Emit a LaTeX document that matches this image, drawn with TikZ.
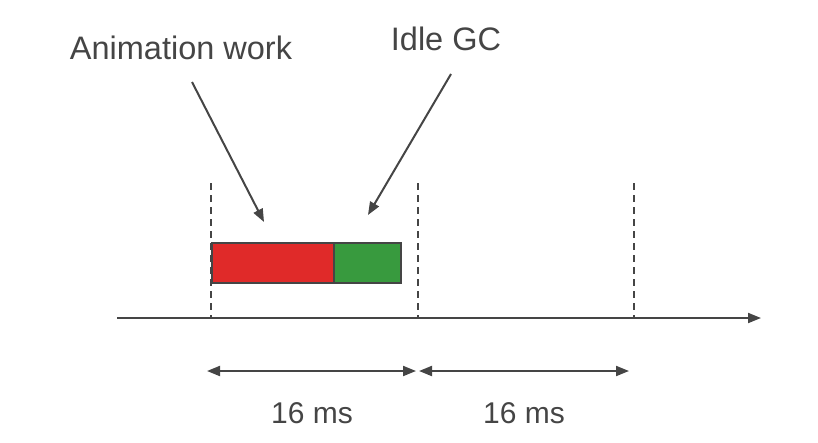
\documentclass[tikz,border=0pt]{standalone}
\usepackage{fontspec}
\setmainfont{Liberation Sans}
\usetikzlibrary{arrows.meta}
\definecolor{ink}{HTML}{454545}
\definecolor{redbar}{HTML}{E02A29}
\definecolor{greenbar}{HTML}{389A3E}
\begin{document}
\begin{tikzpicture}[x=1pt,y=-1pt,
  line/.style={draw=ink,line width=2pt},
  tip/.style={-{Triangle[length=13pt,width=10pt]}},
  tips/.style={{Triangle[length=13pt,width=10pt]}-{Triangle[length=13pt,width=10pt]}},
  dashline/.style={draw=ink,line width=2pt,dash pattern=on 7pt off 5pt},
  lab/.style={text=ink,font=\fontsize{32.5}{36}\selectfont,inner sep=0pt,anchor=base},
  mslab/.style={text=ink,font=\fontsize{30}{34}\selectfont,inner sep=0pt,anchor=base},
  bar/.style={draw=ink,line width=2pt,minimum height=40pt,inner sep=0pt,anchor=north west}]
\useasboundingbox (0,0) rectangle (818,442);
% axis
\coordinate (ax0) at (117,318);
\coordinate (ax1) at (761,318);
\draw[line,tip] (ax0) -- (ax1);
% dashed ticks
\coordinate (d1t) at (211,183); \coordinate (d1b) at (211,318);
\coordinate (d2t) at (418,183); \coordinate (d2b) at (418,318);
\coordinate (d3t) at (634,183); \coordinate (d3b) at (634,318);
\draw[dashline] (d1t) -- (d1b);
\draw[dashline] (d2t) -- (d2b);
\draw[dashline] (d3t) -- (d3b);
% bars
\node[bar,fill=redbar,minimum width=122pt] (anim) at (211,242) {};
\node[bar,fill=greenbar,minimum width=67pt] (idle) at (333,242) {};
% labels
\node[lab] (animlab) at (181,59) {Animation work};
\node[lab] (idlelab) at (446,50) {Idle GC};
\coordinate (a1e) at (264,222);
\coordinate (a2e) at (368,215);
\draw[line,tip] (192,82) -- (a1e);
\draw[line,tip] (451,74) -- (a2e);
% dimension arrows
\coordinate (m1a) at (207,371); \coordinate (m1b) at (416,371);
\coordinate (m2a) at (419,371); \coordinate (m2b) at (629,371);
\draw[line,tips] (m1a) -- (m1b);
\draw[line,tips] (m2a) -- (m2b);
\node[mslab] (ms1) at (312,423) {16 ms};
\node[mslab] (ms2) at (524,423) {16 ms};
\end{tikzpicture}
\end{document}
